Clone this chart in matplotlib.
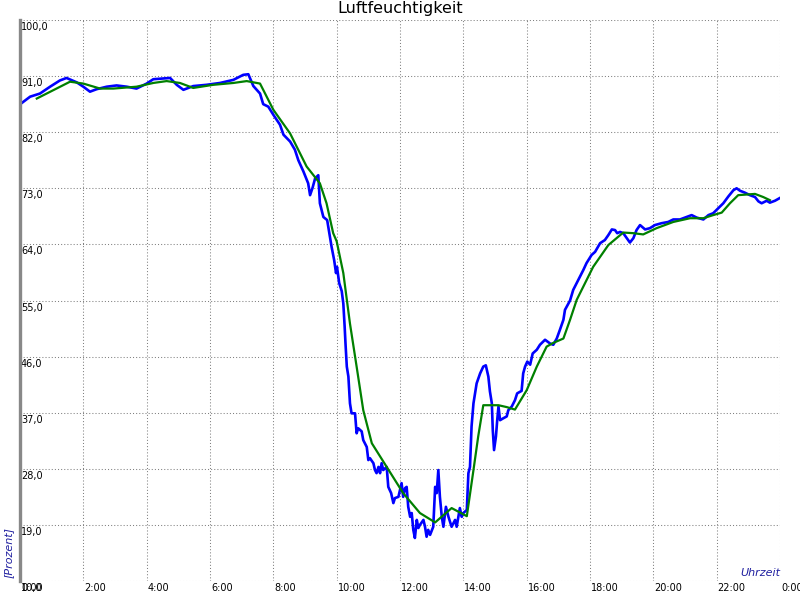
import matplotlib
matplotlib.use("Agg")
import matplotlib.pyplot as plt
from matplotlib.transforms import offset_copy

# Messwerte (Stunde, relative Luftfeuchte in %)
blau_zeit = [0.06, 0.32, 0.63, 0.95, 1.26, 1.47, 1.79, 2.00, 2.21, 2.42, 2.74, 3.05,
             3.37, 3.68, 4.00, 4.21, 4.74, 4.95, 5.16, 5.47, 5.89, 6.32, 6.74, 7.05,
             7.21, 7.37, 7.58, 7.68, 7.84, 8.00, 8.21, 8.32, 8.53, 8.68, 8.79, 8.95,
             9.10, 9.16, 9.24, 9.32, 9.42, 9.47, 9.58, 9.70, 9.77, 9.84, 9.92, 9.98,
             10.01, 10.08, 10.16, 10.21, 10.25, 10.28, 10.32, 10.37, 10.42, 10.47, 10.58, 10.63,
             10.68, 10.79, 10.84, 10.95, 11.00, 11.05, 11.16, 11.21, 11.26, 11.32, 11.37, 11.42,
             11.47, 11.58, 11.63, 11.72, 11.79, 11.84, 11.95, 12.05, 12.10, 12.16, 12.21, 12.26,
             12.32, 12.37, 12.42, 12.47, 12.53, 12.58, 12.63, 12.74, 12.79, 12.84, 12.89, 12.95,
             13.05, 13.11, 13.16, 13.21, 13.26, 13.32, 13.37, 13.45, 13.53, 13.63, 13.74, 13.79,
             13.89, 13.95, 14.00, 14.11, 14.16, 14.21, 14.26, 14.32, 14.42, 14.53, 14.63, 14.71,
             14.79, 14.84, 14.90, 14.93, 14.97, 15.03, 15.07, 15.11, 15.16, 15.26, 15.37, 15.42,
             15.53, 15.63, 15.70, 15.84, 15.89, 15.95, 16.02, 16.11, 16.19, 16.32, 16.42, 16.58,
             16.74, 16.84, 16.95, 17.05, 17.16, 17.21, 17.37, 17.47, 17.63, 17.79, 17.89, 18.05,
             18.16, 18.32, 18.47, 18.58, 18.69, 18.79, 18.86, 18.95, 19.05, 19.16, 19.26, 19.37,
             19.47, 19.58, 19.74, 19.89, 20.05, 20.26, 20.47, 20.63, 20.84, 21.05, 21.21, 21.37,
             21.58, 21.74, 21.89, 22.05, 22.21, 22.37, 22.53, 22.63, 22.74, 22.89, 23.05, 23.21,
             23.32, 23.42, 23.58, 23.68, 23.84, 23.98]
blau_wert = [86.7, 87.7, 88.2, 89.3, 90.3, 90.7, 90.0, 89.3, 88.5, 88.9, 89.3, 89.5,
             89.3, 89.0, 89.8, 90.5, 90.7, 89.6, 88.8, 89.4, 89.6, 89.9, 90.4, 91.2,
             91.3, 89.4, 88.2, 86.5, 86.1, 84.8, 83.2, 81.6, 80.5, 79.2, 77.5, 75.7,
             73.8, 71.9, 73.1, 74.6, 75.1, 70.6, 68.4, 67.9, 65.8, 63.6, 61.5, 59.4,
             60.4, 57.8, 56.5, 54.5, 51.0, 48.0, 44.4, 42.8, 38.5, 36.9, 36.9, 33.7,
             34.5, 34.0, 32.6, 31.5, 29.4, 29.7, 28.9, 27.8, 27.3, 28.3, 27.3, 28.9,
             27.8, 28.3, 25.1, 24.1, 22.5, 23.3, 23.5, 25.7, 23.5, 24.9, 25.1, 21.9,
             20.3, 20.9, 18.2, 16.9, 19.8, 18.5, 19.0, 19.8, 18.7, 17.1, 18.2, 17.4,
             18.7, 25.1, 24.1, 27.8, 23.5, 20.3, 18.7, 21.9, 20.3, 18.7, 19.8, 18.7,
             21.7, 20.3, 20.9, 21.4, 27.3, 28.3, 34.8, 38.5, 41.7, 43.3, 44.4, 44.6,
             42.8, 40.4, 38.5, 34.2, 31.0, 33.2, 35.8, 38.0, 35.8, 36.1, 36.4, 37.4,
             38.0, 39.0, 40.1, 40.5, 43.3, 44.4, 45.2, 44.7, 46.5, 47.1, 47.9, 48.7,
             48.1, 47.9, 48.9, 50.3, 51.9, 53.5, 55.0, 56.7, 58.3, 59.9, 61.0, 62.3,
             62.8, 64.2, 64.7, 65.5, 66.4, 66.3, 65.8, 66.0, 65.8, 65.0, 64.3, 65.0,
             66.3, 67.1, 66.4, 66.6, 67.1, 67.4, 67.6, 68.0, 68.0, 68.4, 68.7, 68.3,
             68.0, 68.7, 69.0, 69.8, 70.6, 71.7, 72.7, 73.0, 72.6, 72.3, 71.9, 71.6,
             70.9, 70.6, 71.0, 70.7, 71.0, 71.4]

# geglaetteter Verlauf
gruen_zeit = [0.53, 1.58, 2.00, 2.53, 2.95, 3.68, 4.21, 4.63, 5.05, 5.47, 6.10, 6.74,
              7.16, 7.58, 8.00, 8.53, 9.05, 9.47, 9.68, 9.89, 10.00, 10.21, 10.42, 10.63,
              10.84, 11.11, 11.58, 12.10, 12.63, 13.11, 13.63, 14.11, 14.32, 14.47, 14.63, 15.11,
              15.37, 15.63, 16.00, 16.32, 16.63, 16.84, 17.16, 17.37, 17.58, 18.10, 18.58, 19.05,
              19.37, 19.68, 20.10, 20.63, 21.16, 21.58, 21.89, 22.16, 22.42, 22.68, 23.21, 23.47,
              23.68]
gruen_wert = [87.4, 90.1, 89.8, 89.0, 89.0, 89.3, 89.9, 90.2, 89.9, 89.1, 89.6, 89.9,
              90.2, 89.8, 85.6, 81.8, 76.5, 73.8, 70.6, 65.8, 64.5, 59.4, 51.3, 44.4,
              37.4, 32.1, 28.3, 24.1, 20.9, 19.4, 21.7, 20.4, 27.8, 33.2, 38.2, 38.2,
              37.9, 37.5, 40.6, 44.4, 47.6, 48.2, 48.9, 51.9, 55.1, 60.4, 63.9, 65.9,
              65.8, 65.6, 66.6, 67.6, 68.2, 68.2, 68.7, 69.1, 70.6, 71.9, 72.1, 71.6,
              71.1]

y_ticks = [10, 19, 28, 37, 46, 55, 64, 73, 82, 91, 100]
x_ticks = list(range(0, 25, 2))
x_labels = ["0:00", "2:00", "4:00", "6:00", "8:00", "10:00", "12:00", "14:00",
            "16:00", "18:00", "20:00", "22:00", "0:00"]

fig = plt.figure(figsize=(8, 6), dpi=100)
ax = fig.add_axes([20 / 800, 19 / 600, 760 / 800, 561 / 600])
ax.set_xlim(0, 24)
ax.set_ylim(10, 100)

ax.set_xticks(x_ticks)
ax.set_yticks(y_ticks)
ax.tick_params(length=0, labelleft=False, labelbottom=False)
ax.grid(True, color="#808080", linestyle=(0, (1, 2)), linewidth=0.75)
for s in ["top", "right", "bottom"]:
    ax.spines[s].set_visible(False)
ax.spines["left"].set_color("#888888")
ax.spines["left"].set_linewidth(2.4)
ax.spines["left"].set_zorder(5)

ax.plot(blau_zeit, blau_wert, color="#0000ff", linewidth=1.9, zorder=3)
ax.plot(gruen_zeit, gruen_wert, color="#008000", linewidth=1.6, zorder=4)

# Beschriftungen innen bzw. unter der Achse
trans_y = offset_copy(ax.get_yaxis_transform(), fig=fig, x=1, y=-2, units="dots")
for v in y_ticks:
    ax.text(0, v, f"{v:.1f}".replace(".", ","), transform=trans_y, ha="left", va="top",
            fontsize=7, color="black", clip_on=False)
trans_x = offset_copy(ax.get_xaxis_transform(), fig=fig, x=1, y=-2, units="dots")
for t, lab in zip(x_ticks, x_labels):
    ax.text(t, 0, lab, transform=trans_x, ha="left", va="top", fontsize=7,
            color="black", clip_on=False)

ax.text(1.0, 0.005, "Uhrzeit", transform=ax.transAxes, ha="right", va="bottom",
        fontsize=8, style="italic", color="#2020a0")
fig.text(9 / 800, 22 / 600, "[Prozent]", rotation=90, ha="center", va="bottom",
         fontsize=8, style="italic", color="#2020a0")
fig.text(0.5, 1 - 8 / 600, "Luftfeuchtigkeit", ha="center", va="center", fontsize=11.5)

fig.savefig("out.png", dpi=100)
